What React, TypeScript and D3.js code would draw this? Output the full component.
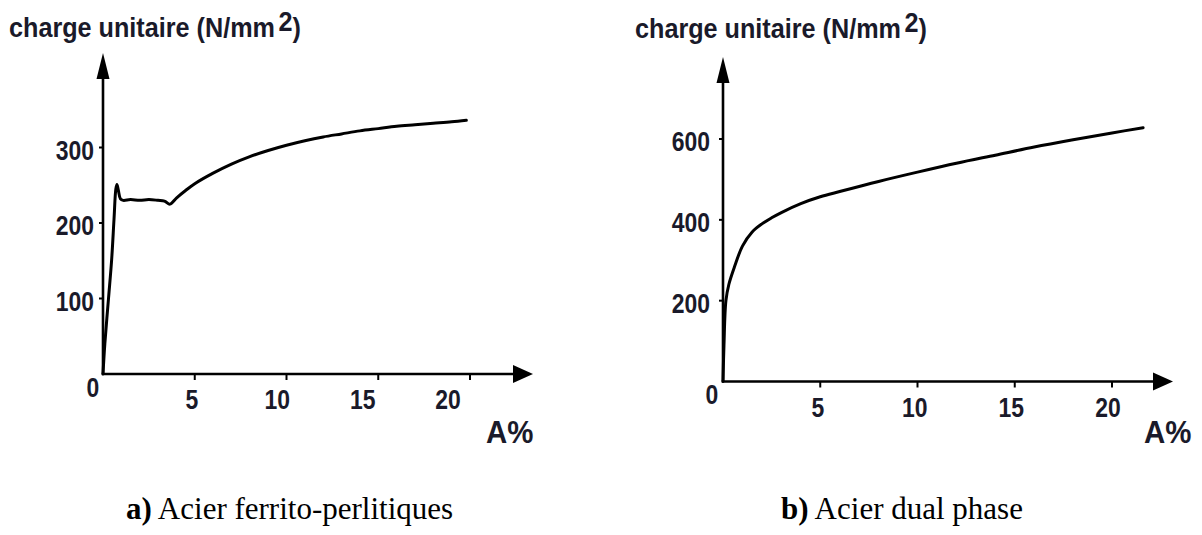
import React from "react";
import * as d3 from "d3";

// Stress–strain curves: unit load (N/mm²) against elongation A%
const ferritePearliteStrain = [0, 0.1, 0.3, 0.47, 0.6, 0.7, 0.76, 0.84, 0.95, 1.1, 1.5, 2.0, 2.5, 3.0, 3.35, 3.65, 4.0, 4.5, 5, 6, 7, 8, 9, 10, 11, 12, 13, 14, 15, 16, 17, 18, 19, 19.8];
const ferritePearliteLoad = [0, 40, 100, 151, 205, 245, 251, 243, 232, 230, 231, 230, 231, 230, 229, 225, 233, 243, 252, 266, 278, 288, 296, 303, 309, 314, 318, 322, 325, 328, 330, 332, 334, 336];

const dualPhaseStrain = [0, 0.05, 0.15, 0.3, 0.6, 1.0, 1.5, 2, 2.5, 3, 4, 5, 6, 8, 10, 12, 14, 16, 18, 20, 21.6];
const dualPhaseLoad = [0, 90, 200, 240, 285, 335, 370, 390, 405, 418, 440, 457, 470, 495, 518, 540, 560, 580, 598, 615, 628];

const xTicks = [5, 10, 15, 20];
const ferriteYTicks = [100, 200, 300];
const dualYTicks = [200, 400, 600];

const SANS = "'Liberation Sans', Arial, sans-serif";
const SERIF = "'Liberation Serif', 'Times New Roman', serif";
const INK = "#1a1a2a";

// Bold sans text, squeezed horizontally to get the narrow look of the axis lettering
function NarrowText(props: {
  x: number;
  y: number;
  size: number;
  sx: number;
  anchor?: "start" | "middle" | "end";
  children: React.ReactNode;
}) {
  return (
    <text
      transform={`translate(${props.x},${props.y}) scale(${props.sx},1)`}
      textAnchor={props.anchor || "start"}
      fontFamily={SANS}
      fontWeight="bold"
      fontSize={props.size}
      fill={INK}
    >
      {props.children}
    </text>
  );
}

type PanelProps = {
  strain: number[];
  load: number[];
  yTicks: number[];
  yDomainMax: number;
  xRange: [number, number];
  yRange: [number, number];
  xLabelRange: [number, number];
  xArrowTip: number;
  yArrowTip: number;
  titleX: number;
  titleY: number;
  zeroLabel: [number, number];
  tickLabelBaseline: number;
  yLabelRight: number;
  unitLabelX: number;
};

function Panel(p: PanelProps) {
  const x = d3.scaleLinear().domain([0, 20]).range(p.xRange);
  const y = d3.scaleLinear().domain([0, p.yDomainMax]).range(p.yRange);
  const xLabel = d3.scaleLinear().domain([5, 20]).range(p.xLabelRange);
  const x0 = x(0);
  const y0 = y(0);

  const pts: [number, number][] = p.strain.map((s, i) => [s, p.load[i]]);
  const line = d3
    .line<[number, number]>()
    .x((d) => x(d[0]))
    .y((d) => y(d[1]))
    .curve(d3.curveCatmullRom.alpha(0.5));

  const yArrowLen = 26;
  const yArrowHalf = 6.5;
  const xArrowLen = 20;
  const xArrowHalf = 9;

  return (
    <g>
      <NarrowText x={p.titleX} y={p.titleY} size={28} sx={0.9}>
        charge unitaire (N/mm
        <tspan dx={4} dy={-6}>2</tspan>
        <tspan dy={6}>)</tspan>
      </NarrowText>

      {/* axes */}
      <line x1={x0} y1={y0} x2={x0} y2={p.yArrowTip + yArrowLen - 2} stroke="#000" strokeWidth={2.6} />
      <path
        d={`M${x0},${p.yArrowTip} L${x0 + yArrowHalf},${p.yArrowTip + yArrowLen} L${x0 - yArrowHalf},${p.yArrowTip + yArrowLen} Z`}
        fill="#000"
      />
      <line x1={x0 - 1.3} y1={y0} x2={p.xArrowTip - xArrowLen + 2} y2={y0} stroke="#000" strokeWidth={2.6} />
      <path
        d={`M${p.xArrowTip},${y0} L${p.xArrowTip - xArrowLen},${y0 - xArrowHalf} L${p.xArrowTip - xArrowLen},${y0 + xArrowHalf} Z`}
        fill="#000"
      />

      {/* y ticks */}
      {p.yTicks.map((t) => (
        <g key={`y${t}`}>
          <line x1={x0 - 4} x2={x0} y1={y(t)} y2={y(t)} stroke="#000" strokeWidth={2} />
          <NarrowText x={p.yLabelRight} y={y(t) + 12} size={27} sx={0.85} anchor="end">
            {t}
          </NarrowText>
        </g>
      ))}

      {/* x ticks */}
      {xTicks.map((t) => (
        <g key={`x${t}`}>
          <line x1={x(t)} x2={x(t)} y1={y0} y2={y0 + 6} stroke="#000" strokeWidth={2} />
          <NarrowText x={xLabel(t)} y={p.tickLabelBaseline} size={27} sx={0.85} anchor="middle">
            {t}
          </NarrowText>
        </g>
      ))}
      <NarrowText x={p.zeroLabel[0]} y={p.zeroLabel[1]} size={27} sx={0.85} anchor="middle">
        0
      </NarrowText>
      <NarrowText x={p.unitLabelX} y={443} size={31} sx={0.95}>
        A%
      </NarrowText>

      <path d={line(pts) || ""} fill="none" stroke="#000" strokeWidth={3} strokeLinejoin="round" strokeLinecap="round" />
    </g>
  );
}

export default function App() {
  return (
    <svg
      width={1202}
      height={535}
      viewBox="0 0 1202 535"
      style={{ position: "absolute", left: 0, top: 0, background: "#fff" }}
    >
      <rect width={1202} height={535} fill="#fff" />
      <Panel
        strain={ferritePearliteStrain}
        load={ferritePearliteLoad}
        yTicks={ferriteYTicks}
        yDomainMax={300}
        xRange={[103, 470]}
        yRange={[374, 147.5]}
        xLabelRange={[192, 448]}
        xArrowTip={533}
        yArrowTip={53}
        titleX={9}
        titleY={37}
        zeroLabel={[93, 397]}
        tickLabelBaseline={409}
        yLabelRight={94}
        unitLabelX={486}
      />
      <Panel
        strain={dualPhaseStrain}
        load={dualPhaseLoad}
        yTicks={dualYTicks}
        yDomainMax={600}
        xRange={[723, 1112]}
        yRange={[381.5, 139]}
        xLabelRange={[818, 1108]}
        xArrowTip={1173}
        yArrowTip={57}
        titleX={635}
        titleY={38}
        zeroLabel={[712, 404]}
        tickLabelBaseline={417}
        yLabelRight={710}
        unitLabelX={1144}
      />
      <text x={126} y={519} fontFamily={SERIF} fontSize={31} fill="#000">
        <tspan fontWeight="bold">a)</tspan> Acier ferrito-perlitiques
      </text>
      <text x={781} y={519} fontFamily={SERIF} fontSize={31} fill="#000">
        <tspan fontWeight="bold">b)</tspan> Acier dual phase
      </text>
    </svg>
  );
}
